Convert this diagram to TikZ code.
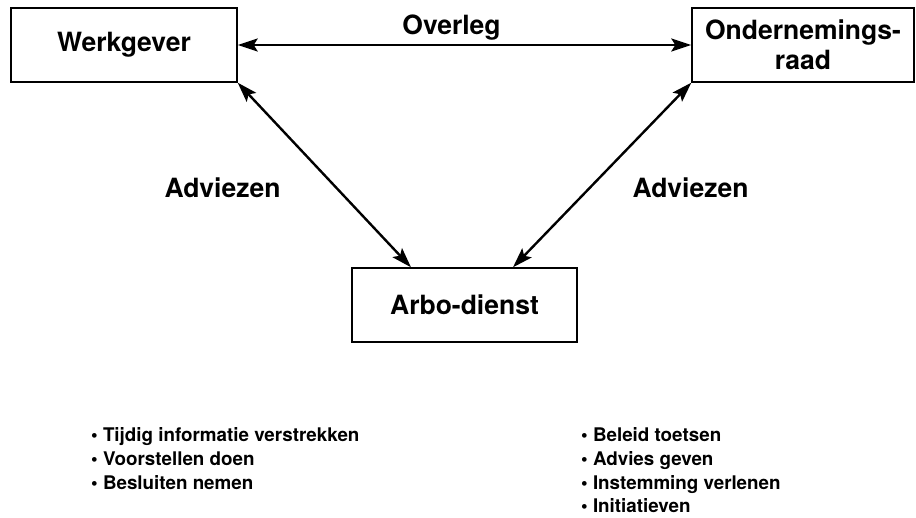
\documentclass[tikz,border=0pt]{standalone}
\usepackage{fontspec}
\setmainfont{TeX Gyre Heros}
\usetikzlibrary{arrows.meta}
\begin{document}
\begin{tikzpicture}[x=1pt,y=-1pt,
  box/.style={draw, line width=1.4pt, inner sep=0pt, align=center,
    font=\bfseries\fontsize{26.5}{30}\selectfont},
  lbl/.style={font=\bfseries\fontsize{26.5}{30}\selectfont, inner sep=0pt, anchor=base},
  item/.style={font=\bfseries\fontsize{18.8}{22}\selectfont, inner sep=0pt, anchor=base west},
  link/.style={line width=2.4pt, {Stealth[length=20pt,width=13pt,inset=4pt]}-{Stealth[length=20pt,width=13pt,inset=4pt]}}]
\useasboundingbox (0,0) rectangle (916,517);
\node[box, minimum width=226pt, minimum height=74pt] (w) at (124,45) {Werkgever};
\node[box, minimum width=222pt, minimum height=74pt] (o) at (803,45) {Ondernemings-\\raad};
\node[box, minimum width=225pt, minimum height=74pt] (a) at (464.5,305) {Arbo-dienst};
\coordinate (aL) at ([xshift=-53.5pt]a.north);
\coordinate (aR) at ([xshift=48.5pt]a.north);
\draw[link] (w.east) -- (o.west);
\draw[link] (w.south east) -- (aL);
\draw[link] (o.south west) -- (aR);
\node[lbl] (ov) at (451.5,34) {Overleg};
\node[lbl] (adl) at (222.5,197) {Adviezen};
\node[lbl] (adr) at (690.5,197) {Adviezen};
\node[item] (l1) at (91,441) {\textbullet\ Tijdig informatie verstrekken};
\node[item] (l2) at (91,465) {\textbullet\ Voorstellen doen};
\node[item] (l3) at (91,489) {\textbullet\ Besluiten nemen};
\node[item] (r1) at (581,441) {\textbullet\ Beleid toetsen};
\node[item] (r2) at (581,465) {\textbullet\ Advies geven};
\node[item] (r3) at (581,489) {\textbullet\ Instemming verlenen};
\node[item] (r4) at (581,512) {\textbullet\ Initiatieven};
\end{tikzpicture}
\end{document}
